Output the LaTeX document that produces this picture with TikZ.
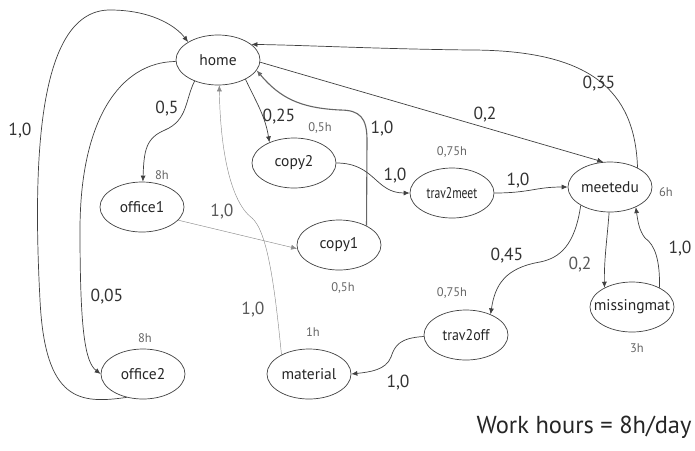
\documentclass[tikz,border=0pt]{standalone}
\usepackage{fontspec}
\setmainfont{PT Sans}
\usetikzlibrary{shapes.geometric,arrows.meta}

% label of a state: no width, so the ellipse keeps its size
\newcommand{\statelbl}[1]{\makebox[0pt]{#1}}

\tikzset{
  state/.style={ellipse,draw=black!75,line width=0.7pt,minimum width=84pt,minimum height=50pt,inner sep=0pt,font=\fontsize{15.5}{17}\selectfont,text=black!85},
  hrs/.style={font=\fontsize{12.5}{14}\selectfont,text=black!60},
  prob/.style={font=\fontsize{17.5}{20}\selectfont,text=black!80},
  edge/.style={draw=black!75,line width=0.7pt,-{Latex[length=6pt,width=5pt]}},
  faint/.style={draw=black!45,line width=0.45pt,-{Latex[length=6pt,width=5pt]}}
}

\begin{document}
\begin{tikzpicture}[x=1pt,y=-1pt]
  \useasboundingbox (0,0) rectangle (695,450);

  % states
  \node[state] (home)       at (218,60)  {\statelbl{home}};
  \node[state] (office1)    at (142,207) {\statelbl{office1}};
  \node[state] (copy2)      at (294,163) {\statelbl{copy2}};
  \node[state] (copy1)      at (339,245) {\statelbl{copy1}};
  \node[state] (trav2meet)  at (452,193) {\statelbl{\scalebox{0.75}[1]{trav2meet}}};
  \node[state] (meetedu)    at (610,187) {\statelbl{meetedu}};
  \node[state] (missingmat) at (632,307) {\statelbl{missingmat}};
  \node[state] (trav2off)   at (466,335) {\statelbl{\scalebox{0.9}[1]{trav2off}}};
  \node[state] (material)   at (309,374) {\statelbl{material}};
  \node[state] (office2)    at (143,374) {\statelbl{office2}};

  % durations
  \node[hrs] (h1) at (162,175) {8h};
  \node[hrs] (h2) at (320,128) {0,5h};
  \node[hrs] (h3) at (452,152) {0,75h};
  \node[hrs] (h4) at (666,192) {6h};
  \node[hrs] (h5) at (343,288) {0,5h};
  \node[hrs] (h6) at (452,293) {0,75h};
  \node[hrs] (h7) at (637,348) {3h};
  \node[hrs] (h8) at (145,338) {8h};
  \node[hrs] (h9) at (313,332) {1h};

  % transitions
  \draw[edge] (office2.235) .. controls (80,404) and (45,402) .. (40,300)
    .. controls (32,150) and (40,10) .. (110,10)
    .. controls (150,10) and (175,25) .. (home.149);
  \draw[edge] (home.182) .. controls (120,62) and (80,120) .. (80,230)
    .. controls (80,330) and (85,362) .. (office2.west);
  \draw[edge] (home.222) .. controls (185,100) and (188,120) .. (165,130)
    .. controls (146,138) and (144,150) .. (office1.88);
  \draw[edge] (home.-35) .. controls (255,100) and (265,115) .. (copy2.140);
  \draw[edge,draw=black!60,line width=1.1pt] (copy1.35) -- (367,140)
    .. controls (367,118) and (360,110) .. (340,110)
    .. controls (300,108) and (280,98) .. (home.-15);
  \draw[edge] (meetedu.35) .. controls (635,90) and (590,50) .. (470,50)
    .. controls (380,49) and (300,45) .. (home.25);
  \draw[edge] (home.-3) -- (meetedu.105);
  \draw[edge] (copy2.east) .. controls (375,163) and (375,193) .. (trav2meet.west);
  \draw[edge] (trav2meet.east) .. controls (530,193) and (535,187) .. (meetedu.west);
  \draw[faint] (office1.-20) -- (copy1.185);
  \draw[faint] (material.145) .. controls (275,290) and (268,232) .. (252,218)
    .. controls (228,200) and (220,140) .. (home.-87);
  \draw[edge] (meetedu.212) .. controls (575,245) and (560,258) .. (540,262)
    .. controls (505,268) and (495,285) .. (trav2off.40);
  \draw[edge] (meetedu.-92) .. controls (607,240) and (604,260) .. (missingmat.145);
  \draw[edge] (missingmat.35) .. controls (660,260) and (655,245) .. (645,238)
    .. controls (639,230) and (638,222) .. (meetedu.-38);
  \draw[edge] (trav2off.182) .. controls (400,338) and (395,345) .. (391,357)
    .. controls (386,370) and (370,372) .. (material.east);

  % probabilities
  \node[prob] (p1)  at (20,131)  {1,0};
  \node[prob] (p2)  at (107,297) {0,05};
  \node[prob] (p3)  at (167,109) {0,5};
  \node[prob] (p4)  at (279,117) {0,25};
  \node[prob] (p5)  at (382,129) {1,0};
  \node[prob] (p6)  at (485,115) {0,2};
  \node[prob] (p7)  at (599,84)  {0,35};
  \node[prob] (p8)  at (395,176) {1,0};
  \node[prob] (p9)  at (518,181) {1,0};
  \node[prob,text=black!65] (p10) at (222,212) {1,0};
  \node[prob,text=black!65] (p11) at (253,310) {1,0};
  \node[prob] (p12) at (507,256) {0,45};
  \node[prob,text=black!65] (p13) at (580,265) {0,2};
  \node[prob] (p14) at (680,249) {1,0};
  \node[prob] (p15) at (398,383) {1,0};

  \node[anchor=west,font=\fontsize{24.5}{28}\selectfont,text=black!85] (note) at (473,427) {Work hours = 8h/day};
\end{tikzpicture}
\end{document}
